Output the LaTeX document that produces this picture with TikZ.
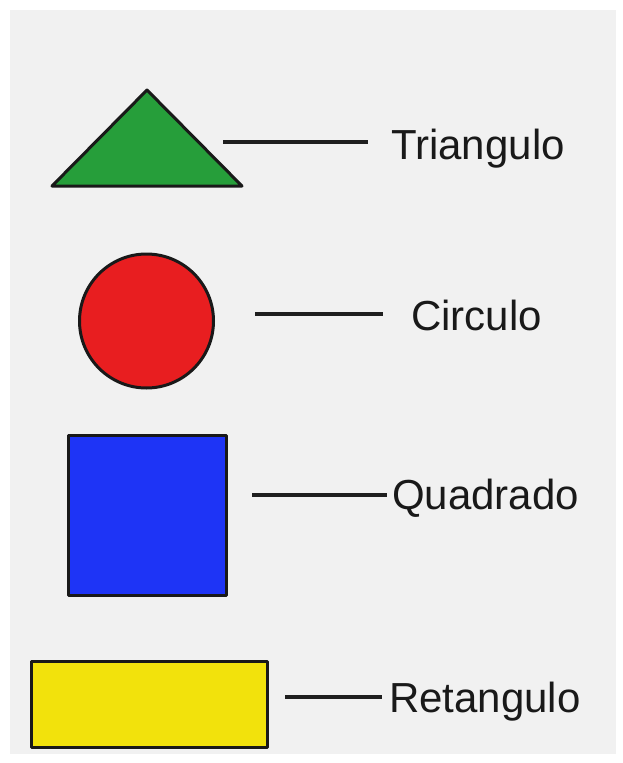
\documentclass[tikz,border=0pt]{standalone}
\usepackage{fontspec}
\setmainfont{Liberation Sans}
\usepackage{xcolor}
\definecolor{shapegreen}{RGB}{38,158,58}
\definecolor{shapered}{RGB}{232,30,32}
\definecolor{shapeblue}{RGB}{30,52,246}
\definecolor{shapeyellow}{RGB}{242,226,12}
\definecolor{paper}{RGB}{241,241,241}
\tikzset{
  shapeline/.style={draw=black!90, line width=3pt, line join=round},
  leader/.style={draw=black!88, line width=3.8pt},
  shapename/.style={anchor=base west, inner sep=0pt, font=\fontsize{42}{48}\selectfont, text=black!90}
}
\begin{document}
\begin{tikzpicture}[x=1pt,y=-1pt]
\useasboundingbox (0,0) rectangle (623,763);
% paper
\fill[paper] (10,10) rectangle (616,754);

% shapes
\coordinate (tritop) at (147,90);
\coordinate (trileft) at (52,186);
\coordinate (triright) at (242,186);
\fill[shapegreen] (trileft) -- (tritop) -- (triright) -- cycle;
\draw[shapeline] (trileft) -- (tritop) -- (triright) -- cycle;
\node[circle, shapeline, fill=shapered, minimum size=134pt, inner sep=0pt] (circ) at (146.5,321) {};
\node[rectangle, shapeline, fill=shapeblue, minimum width=158pt, minimum height=160pt, inner sep=0pt] (sq) at (147,515.5) {};
\node[rectangle, shapeline, fill=shapeyellow, minimum width=236pt, minimum height=86pt, inner sep=0pt] (rect) at (149,704) {};

% names
\node[shapename] (triname) at (391,159) {Triangulo};
\node[shapename] (circname) at (411,330) {Circulo};
\node[shapename] (sqname) at (392,509) {Quadrado};
\node[shapename] (rectname) at (389,712) {Retangulo};

% leaders
\coordinate (trilead) at (223,142);
\coordinate (circlead) at (255,314);
\coordinate (sqlead) at (252,495);
\coordinate (rectlead) at (285,697);
\draw[leader, shorten >=23pt] (trilead) -- (trilead -| triname.west);
\draw[leader, shorten >=28pt] (circlead) -- (circlead -| circname.west);
\draw[leader, shorten >=5pt] (sqlead) -- (sqlead -| sqname.west);
\draw[leader, shorten >=7pt] (rectlead) -- (rectlead -| rectname.west);
\end{tikzpicture}
\end{document}
